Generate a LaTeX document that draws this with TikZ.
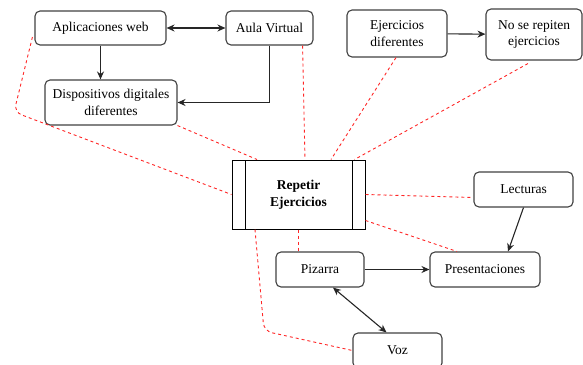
\documentclass[tikz,border=0pt]{standalone}
\usepackage{fontspec}
\setmainfont{Liberation Serif}
\usetikzlibrary{positioning, calc, arrows.meta}
\tikzset{
	box/.style={
		draw=black!75,
		line width=1.1pt,
		rounded corners=5pt,
		align=center,
		inner sep=2pt,
		font=\fontsize{13.5}{16.5}\selectfont
	},
	process/.style={
		draw=black,
		line width=1pt,
		align=center,
		font=\fontsize{13.5}{16.5}\selectfont\bfseries,
		path picture={
			\draw[line width=1pt] ([xshift=13pt]path picture bounding box.north west) -- ([xshift=13pt]path picture bounding box.south west);
			\draw[line width=1pt] ([xshift=-13pt]path picture bounding box.north east) -- ([xshift=-13pt]path picture bounding box.south east);
		}
	},
	link/.style={
		red!85,
		line width=0.9pt,
		dash pattern=on 3pt off 3pt
	}
}

\begin{document}
\begin{tikzpicture}[x=1pt, y=-1pt]
		\useasboundingbox (0,0) rectangle (583,364);
		
		% top left group
		\node[box, minimum width=131pt, minimum height=34pt] (aplicaciones) at (100.5,28) {Aplicaciones web};
		\node[box, minimum width=87pt, minimum height=34pt] (aula) at (269.5,28) {Aula Virtual};
		\node[box, minimum width=132pt, minimum height=45pt] (dispositivos) at (111,102.5) {Dispositivos digitales\\diferentes};
		
		% top right group
		\node[box, minimum width=100pt, minimum height=47pt] (ejdiferentes) at (397,33.5) {Ejercicios\\diferentes};
		\node[box, minimum width=96pt, minimum height=51pt] (norepiten) at (534,34.5) {No se repiten\\ejercicios};
		
		% main process
		\node[process, minimum width=133pt, minimum height=69pt] (repetir) at (298.5,194.5) {Repetir\\Ejercicios};
		
		% bottom group
		\node[box, minimum width=99pt, minimum height=35pt] (lecturas) at (523.5,189.5) {Lecturas};
		\node[box, minimum width=110pt, minimum height=35pt] (presentaciones) at (485,269.5) {Presentaciones};
		\node[box, minimum width=88pt, minimum height=35pt] (pizarra) at (320,269.5) {Pizarra};
		\node[box, minimum width=89pt, minimum height=35pt] (voz) at (397.5,350.5) {Voz};
		
		% bends of the dashed links
		\coordinate (bendweb) at (14,112);
		\coordinate (bendvoz) at (264,331);
		
		% arrows between resources
		\begin{scope}[line width=1.1pt, black!85, ->, >={Stealth[length=8pt,width=7pt]}]
		\draw[<->] (aplicaciones) -- (aula);
		\draw (aplicaciones.south) -- (aplicaciones.south |- dispositivos.north);
		\draw (aula.south) |- (dispositivos.east);
		\draw (ejdiferentes) -- (norepiten);
		\draw (lecturas.south) -- ([xshift=23pt]presentaciones.north);
		\draw (pizarra) -- (presentaciones);
		\draw[<->] ([xshift=13pt]pizarra.south) -- ([xshift=-11pt]voz.north);
		\end{scope}
		
		% dashed links to the process
		\begin{scope}[link]
		\draw[rounded corners=8pt] ([shift={(-2pt,-9pt)}]aplicaciones.west) -- (bendweb) -- (repetir.west);
		\draw (dispositivos.south east) -- ([xshift=-41.5pt]repetir.north);
		\draw ([xshift=-11pt]aula.south east) -- ([xshift=6.5pt]repetir.north);
		\draw ([xshift=-1pt]ejdiferentes.south) -- ([xshift=32.5pt]repetir.north);
		\draw ([shift={(-6pt,-3pt)}]norepiten.south) -- ([xshift=56pt]repetir.north);
		\draw (repetir.east) -- ([yshift=-8pt]lecturas.west);
		\draw ([yshift=-26pt]repetir.east) -- ([xshift=-28pt]presentaciones.north);
		\draw (repetir.south) -- (repetir.south |- pizarra.north);
		\draw[rounded corners=8pt] ([xshift=-43.5pt]repetir.south) -- (bendvoz) -- (voz.west);
		\end{scope}
\end{tikzpicture}
\end{document}
